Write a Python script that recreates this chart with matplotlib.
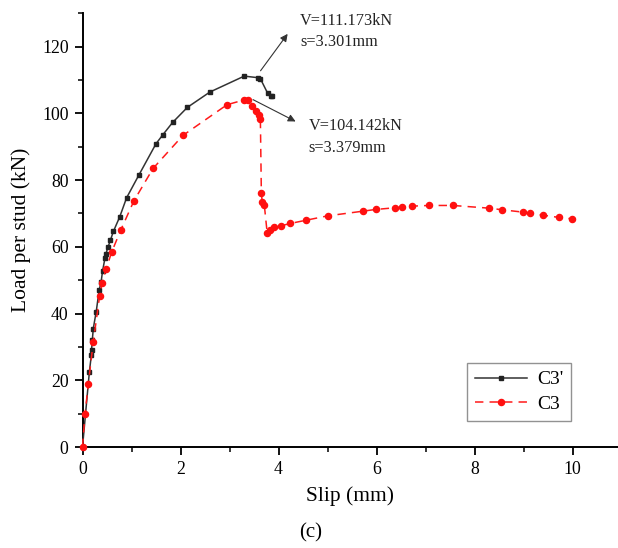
import matplotlib
matplotlib.use("Agg")
import matplotlib.pyplot as plt
from matplotlib.ticker import MultipleLocator

# ---- data ----
slip_c3p = [0.0, 0.14, 0.18, 0.185, 0.20, 0.22, 0.28, 0.34, 0.38, 0.41, 0.46, 0.48, 0.52,
            0.57, 0.63, 0.76, 0.90, 1.15, 1.50, 1.64, 1.84, 2.14, 2.60, 3.301, 3.58,
            3.63, 3.78, 3.84, 3.87]
load_c3p = [0.0, 22.5, 27.5, 29.0, 32.0, 35.5, 40.6, 47.0, 49.5, 52.8, 56.7, 58.0, 59.9,
            62.0, 64.6, 69.0, 74.7, 81.5, 90.9, 93.6, 97.3, 101.8, 106.4, 111.173, 110.7,
            110.4, 106.0, 105.3, 105.1]

slip_c3 = [0.0, 0.05, 0.12, 0.22, 0.35, 0.40, 0.48, 0.60, 0.78, 1.05, 1.44, 2.05, 2.95,
           3.29, 3.379, 3.45, 3.55, 3.61, 3.63, 3.65, 3.67, 3.71, 3.77, 3.82, 3.90, 4.05,
           4.24, 4.57, 5.01, 5.73, 5.98, 6.37, 6.52, 6.73, 7.07, 7.56, 8.29, 8.57, 8.99,
           9.14, 9.39, 9.73, 9.98]
load_c3 = [0.0, 9.8, 19.0, 31.5, 45.3, 49.2, 53.3, 58.6, 65.0, 73.8, 83.5, 93.4, 102.6,
           104.0, 104.142, 102.1, 100.6, 99.6, 98.4, 76.0, 73.3, 72.6, 64.0, 65.0, 65.8,
           66.3, 67.0, 68.0, 69.3, 70.7, 71.2, 71.7, 71.9, 72.2, 72.4, 72.4, 71.6, 71.1,
           70.4, 70.0, 69.5, 68.8, 68.4]

series_labels = ["C3'", "C3"]
ann_texts = [("V=111.173kN", "s=3.301mm"), ("V=104.142kN", "s=3.379mm")]
xlabel = "Slip (mm)"
ylabel = "Load per stud (kN)"
caption = "(c)"

# ---- style ----
plt.rcParams['font.family'] = ['Liberation Serif', 'DejaVu Serif']

fig = plt.figure(figsize=(6.18, 5.48), dpi=100)
ax = fig.add_axes([82.5 / 618, 101 / 548, (618 - 82.5) / 618, (447 - 13.3) / 548])

ax.plot(slip_c3p, load_c3p, color='#333333', lw=1.1, marker='s', ms=3.5,
        mfc='#222222', mec='#222222', label=series_labels[0], clip_on=False, zorder=3)
ax.plot(slip_c3, load_c3, color='#ff1a1a', lw=1.1, ls=(0, (5.5, 4)), marker='o', ms=4.4,
        mfc='#ff1010', mec='#ff1010', label=series_labels[1], clip_on=False, zorder=3)

ax.set_xlim(0, (618 - 82.5) / 49.0)
ax.set_ylim(0, 130)
ax.xaxis.set_major_locator(MultipleLocator(2))
ax.xaxis.set_minor_locator(MultipleLocator(1))
ax.yaxis.set_major_locator(MultipleLocator(20))
ax.yaxis.set_minor_locator(MultipleLocator(10))
for s in ['top', 'right']:
    ax.spines[s].set_visible(False)
for s in ['left', 'bottom']:
    ax.spines[s].set_linewidth(1.4)
ax.tick_params(which='major', direction='out', length=6, width=1.3, labelsize=12.8, pad=4)
ax.tick_params(which='minor', direction='out', length=3.5, width=1.1)

ax.set_xlabel(xlabel, fontsize=15.5, labelpad=6)
ax.set_ylabel(ylabel, fontsize=15.5, labelpad=8)

# annotations
arrow_kw = dict(arrowstyle='-|>', lw=0.8, color='#333333', mutation_scale=11)
ax.annotate('', xy=(4.22, 124.5), xytext=(3.60, 112.1), arrowprops=arrow_kw)
ax.text(4.44, 127.8, ann_texts[0][0], fontsize=11.7, va='center', ha='left', color='#222222')
ax.text(4.44, 121.5, ann_texts[0][1], fontsize=11.7, va='center', ha='left', color='#222222')
ax.annotate('', xy=(4.40, 97.2), xytext=(3.43, 104.5), arrowprops=arrow_kw)
ax.text(4.61, 96.2, ann_texts[1][0], fontsize=11.7, va='center', ha='left', color='#222222')
ax.text(4.61, 89.5, ann_texts[1][1], fontsize=11.7, va='center', ha='left', color='#222222')

leg = ax.legend(loc='upper left', bbox_to_anchor=(467 / 618, 1 - 363 / 548),
                bbox_transform=fig.transFigure, fontsize=14, frameon=True, fancybox=False,
                handlelength=2.7, borderpad=0.4, labelspacing=0.35, handletextpad=0.5,
                borderaxespad=0)
leg.get_frame().set_edgecolor('#777777')
leg.get_frame().set_linewidth(1.0)

fig.text(311 / 618, 1 - 533 / 548, caption, fontsize=15, ha='center', va='center')

fig.savefig('out.png', dpi=100)
